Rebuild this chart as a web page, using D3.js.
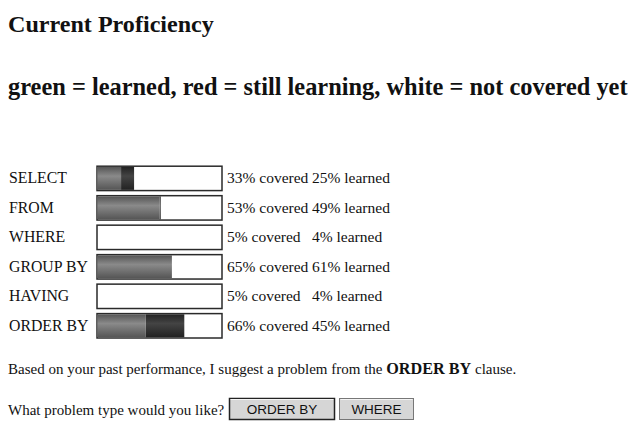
<!DOCTYPE html>
<html>
<head>
<meta charset="utf-8">
<script src="https://cdn.jsdelivr.net/npm/d3@7"></script>
<style>
html,body{margin:0;padding:0;background:#fff;}
svg{display:block;}
</style>
</head>
<body>
<svg id="chart" width="628" height="427"></svg>
<script>
// Row categories and the percentages printed next to each bar
const categories = ["SELECT", "FROM", "WHERE", "GROUP BY", "HAVING", "ORDER BY"];
const coveredPct = [33, 53, 5, 65, 5, 66];
const learnedPct = [25, 49, 4, 61, 4, 45];
// Bar fill extents (percent of bar length)
const barLearned = [19, 50, 0, 60, 0, 39];
const barCovered = [29.5, 51, 0, 60, 0, 70];
const title = "Current Proficiency";
const legendText = "green = learned, red = still learning, white = not covered yet";
const suggestion = ["Based on your past performance, I suggest a problem from the ", "ORDER BY", " clause."];
const question = "What problem type would you like?";
const buttons = ["ORDER BY", "WHERE"];

const svg = d3.select("#chart");
const serif = "'Liberation Serif','Times New Roman',serif";
const sans = "'Liberation Sans',Arial,sans-serif";

const defs = svg.append("defs");
function grad(id, edge, mid) {
  const g = defs.append("linearGradient").attr("id", id)
    .attr("x1", 0).attr("y1", 0).attr("x2", 0).attr("y2", 1);
  g.append("stop").attr("offset", "0%").attr("stop-color", edge);
  g.append("stop").attr("offset", "40%").attr("stop-color", mid);
  g.append("stop").attr("offset", "100%").attr("stop-color", edge);
}
grad("gLearned", "#555", "#8a8a8a");
grad("gLearning", "#222", "#444");

svg.append("text").attr("x", 8).attr("y", 32)
  .attr("font-family", serif).attr("font-weight", "bold").attr("font-size", 24.1)
  .attr("fill", "#111").text(title);
svg.append("text").attr("x", 8).attr("y", 95)
  .attr("font-family", serif).attr("font-weight", "bold").attr("font-size", 24.4)
  .attr("fill", "#111").text(legendText);

const x = d3.scaleLinear().domain([0, 100]).range([97.5, 221.5]);
const y = d3.scaleBand().domain(categories).range([165.7, 338.5]).paddingInner(4 / 28.8).paddingOuter(0);

const data = categories.map((c, i) => ({
  c, cov: coveredPct[i], lrn: learnedPct[i], bl: barLearned[i], bc: barCovered[i]
}));
const rows = svg.selectAll("g.row").data(data).join("g").attr("class", "row");

rows.append("text").attr("x", 9).attr("y", d => y(d.c) + 17.5)
  .attr("font-family", serif).attr("font-size", 15.8).attr("fill", "#111")
  .text(d => d.c);

rows.append("rect").attr("x", x(0) - 0.5).attr("y", d => y(d.c) + 0.5)
  .attr("width", x(100) - x(0) + 1).attr("height", y.bandwidth() - 1)
  .attr("fill", "#fff").attr("stroke", "#2a2a2a").attr("stroke-width", 1.5);

rows.append("rect").attr("x", d => x(d.bl)).attr("y", d => y(d.c) + 1.2)
  .attr("width", d => Math.max(0, x(d.bc) - x(d.bl))).attr("height", y.bandwidth() - 2.4)
  .attr("fill", "url(#gLearning)");
rows.append("rect").attr("x", x(0)).attr("y", d => y(d.c) + 1.2)
  .attr("width", d => x(d.bl) - x(0)).attr("height", y.bandwidth() - 2.4)
  .attr("fill", "url(#gLearned)");

rows.append("text").attr("x", 227).attr("y", d => y(d.c) + 17.5)
  .attr("font-family", serif).attr("font-size", 15.5).attr("fill", "#111")
  .text(d => d.cov + "% covered");
rows.append("text").attr("x", 312).attr("y", d => y(d.c) + 17.5)
  .attr("font-family", serif).attr("font-size", 15.5).attr("fill", "#111")
  .text(d => d.lrn + "% learned");

const s = svg.append("text").attr("x", 8).attr("y", 374)
  .attr("font-family", serif).attr("font-size", 15).attr("fill", "#111");
s.append("tspan").text(suggestion[0]);
s.append("tspan").attr("font-weight", "bold").attr("font-size", 16.2).text(suggestion[1]);
s.append("tspan").text(suggestion[2]);

svg.append("text").attr("x", 8).attr("y", 415)
  .attr("font-family", serif).attr("font-size", 15).attr("fill", "#111").text(question);

const btnX = [229, 339], btnW = [106, 75];
buttons.forEach((b, i) => {
  const g = svg.append("g");
  g.append("rect").attr("x", btnX[i] + 0.5).attr("y", 398.5).attr("width", btnW[i] - 1).attr("height", 21)
    .attr("fill", "#d6d6d6").attr("stroke", i === 0 ? "#222" : "#777").attr("stroke-width", i === 0 ? 1.5 : 1);
  g.append("line").attr("x1", btnX[i] + 1.5).attr("x2", btnX[i] + btnW[i] - 1.5)
    .attr("y1", 399.5).attr("y2", 399.5).attr("stroke", "#f4f4f4");
  g.append("text").attr("x", btnX[i] + btnW[i] / 2).attr("y", 414)
    .attr("text-anchor", "middle").attr("font-family", sans).attr("font-size", 13.5)
    .attr("fill", "#111").text(b);
});
</script>
</body>
</html>
